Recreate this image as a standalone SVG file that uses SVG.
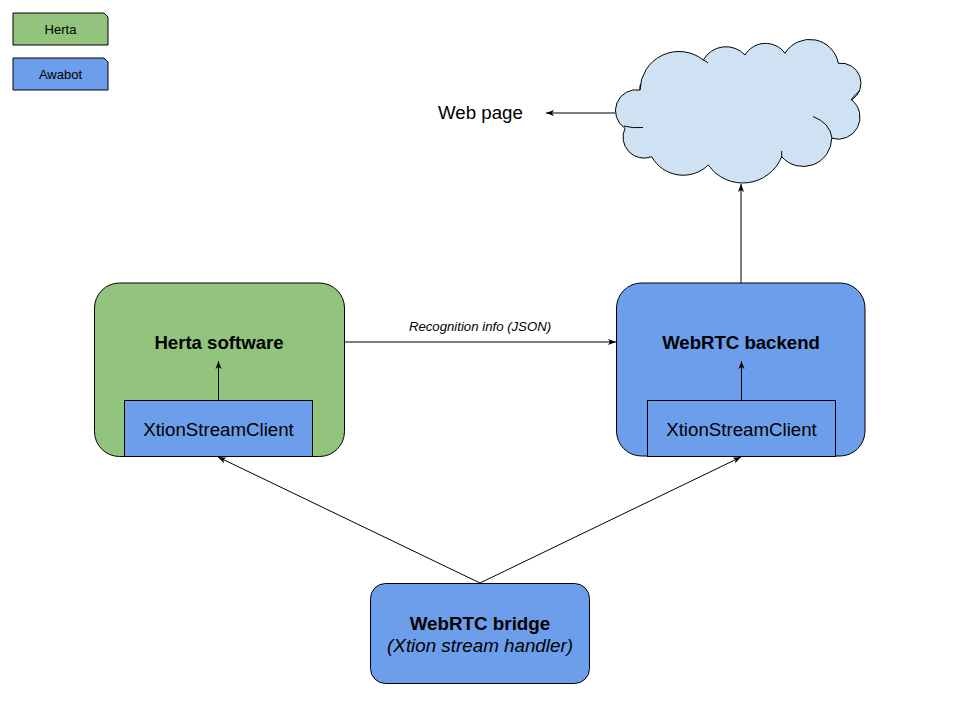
<svg xmlns="http://www.w3.org/2000/svg" width="960" height="720" viewBox="0 0 960 720">
<defs>
<marker id="ah" markerUnits="userSpaceOnUse" markerWidth="10" markerHeight="10" viewBox="0 0 10 10" refX="9" refY="5" orient="auto">
<path d="M1,2 L9,5 L1,8 L3,5 Z" fill="#000"/>
</marker>
<style>
text{font-family:"Liberation Sans",Arial,sans-serif;fill:#000}
.c{text-anchor:middle}
.b{font-weight:bold}
.i{font-style:italic}
.g{fill:#93c47d;stroke:#000;stroke-width:1}
.bl{fill:#6d9eeb;stroke:#000;stroke-width:1}
.e{fill:none;stroke:#000;stroke-width:1}
</style>
</defs>
<rect width="960" height="720" fill="#fff"/>
<g id="legend-herta">
<path class="g" d="M13,13 H104 L108,17 V45 H13 Z"/>
<text class="c" x="60.5" y="34" font-size="13">Herta</text>
</g>
<g id="legend-awabot">
<path class="bl" d="M13,58 H104 L108,62 V90 H13 Z"/>
<text class="c" x="60.5" y="79" font-size="13">Awabot</text>
</g>
<g id="cloud">
<path d="M640,90 A39,39 0 0 1 703.3,60 A26,26 0 0 1 745,55 A24,24 0 0 1 785,53.3 A29,29 0 0 1 838.3,63.3 A20,20 0 0 1 851.7,100 A22,22 0 0 1 831.7,138.3 A28.5,28.5 0 0 1 781.7,156.7 A42,42 0 0 1 708.3,165 A36,36 0 0 1 651.7,156.7 A21,21 0 0 1 625,128.3 A21,21 0 0 1 640,90 Z" fill="#cfe2f3" stroke="#000" stroke-width="1"/>
<path class="e" d="M624,126 Q633,128.5 643,127.5"/>
<path class="e" d="M813,116.5 Q830,123 832,138"/>
<path class="e" d="M851,100 Q855,94 860,91"/>
<path class="e" d="M781.7,157 L781.7,151"/>
<path class="e" d="M640,90 Q639.5,87 640.5,84"/>
<path class="e" d="M703.3,60 Q706,61 708,63"/>
</g>
<g id="webpage">
<text x="438" y="119" font-size="18.7">Web page</text>
</g>
<g id="herta">
<rect class="g" x="94.5" y="283" width="250" height="173.5" rx="25" ry="25"/>
<text class="c b" x="219" y="349" font-size="18.6">Herta software</text>
<rect class="bl" x="124.5" y="400.5" width="188" height="56"/>
<text class="c" x="218.5" y="436" font-size="18.7">XtionStreamClient</text>
</g>
<g id="backend">
<rect class="bl" x="616.5" y="283" width="248.5" height="173" rx="25" ry="25"/>
<text class="c b" x="741" y="349" font-size="18.6">WebRTC backend</text>
<rect class="bl" x="647.5" y="400.5" width="188" height="56"/>
<text class="c" x="741.5" y="436" font-size="18.7">XtionStreamClient</text>
</g>
<g id="bridge">
<rect class="bl" x="370.5" y="583.5" width="219" height="100" rx="15" ry="15"/>
<text class="c b" x="480" y="630" font-size="18.8">WebRTC bridge</text>
<text class="c i" x="480" y="651.5" font-size="18.8">(Xtion stream handler)</text>
</g>
<g id="connectors">
<line class="e" x1="615" y1="113" x2="546" y2="113" marker-end="url(#ah)"/>
<line class="e" x1="741" y1="283" x2="741" y2="184" marker-end="url(#ah)"/>
<line class="e" x1="345" y1="342" x2="616" y2="342" marker-end="url(#ah)"/>
<text class="i c" x="480" y="330.5" font-size="13.2">Recognition info (JSON)</text>
<line class="e" x1="218.5" y1="400" x2="218.5" y2="361" marker-end="url(#ah)"/>
<line class="e" x1="741.5" y1="400" x2="741.5" y2="361" marker-end="url(#ah)"/>
<line class="e" x1="480" y1="583" x2="218" y2="457" marker-end="url(#ah)"/>
<line class="e" x1="480" y1="583" x2="741" y2="457" marker-end="url(#ah)"/>
</g>
</svg>
